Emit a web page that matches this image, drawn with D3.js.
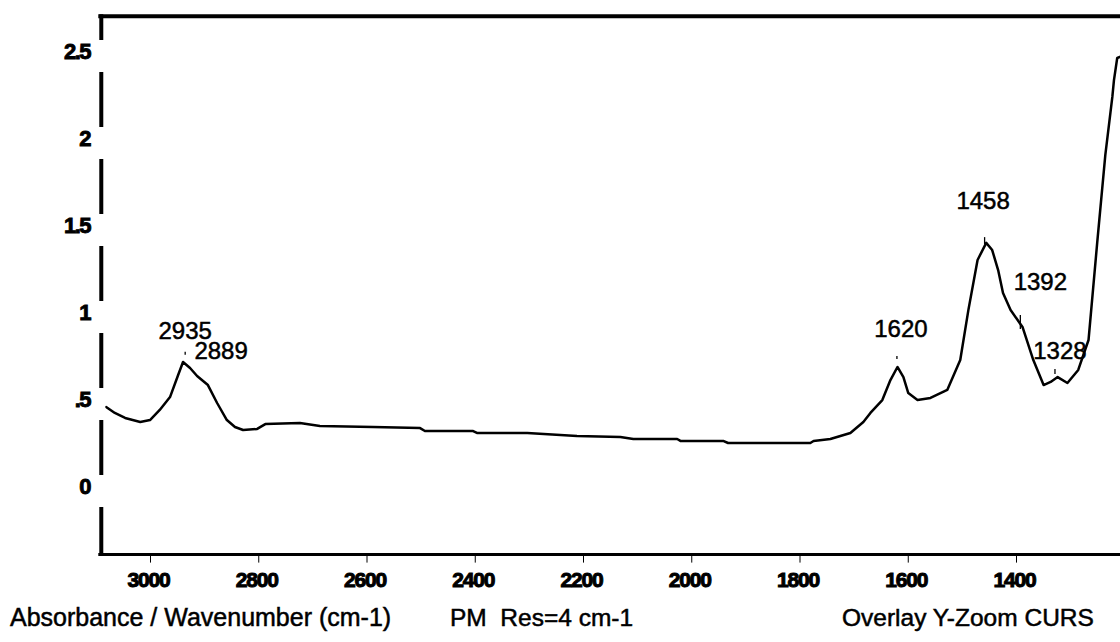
<!DOCTYPE html>
<html>
<head>
<meta charset="utf-8">
<script src="https://cdn.jsdelivr.net/npm/d3@7"></script>
<style>
  html, body { margin: 0; padding: 0; background: #fff; }
  svg { display: block; }
  text { font-family: "Liberation Sans", Arial, sans-serif; fill: #000; }
</style>
</head>
<body>
<svg id="chart" width="1120" height="642"></svg>
<script>
// ---- data ----
const wavenumbers = [3081, 3065, 3046, 3018, 3000, 2982, 2963, 2948, 2939, 2926, 2913, 2893, 2876, 2858, 2843, 2828, 2802, 2787, 2723, 2686, 2588, 2501, 2492, 2403, 2396, 2303, 2211, 2131, 2107, 2026, 2020, 1941, 1932, 1780, 1774, 1743, 1706, 1682, 1669, 1647, 1632, 1619, 1608, 1599, 1582, 1558, 1527, 1503, 1488, 1471, 1455, 1444, 1433, 1424, 1410, 1388, 1368, 1349, 1336, 1323, 1305, 1285, 1266, 1250, 1235, 1222, 1219, 1213, 1198];
const absorbance  = [0.454, 0.42, 0.391, 0.368, 0.379, 0.437, 0.511, 0.638, 0.713, 0.678, 0.632, 0.580, 0.477, 0.379, 0.339, 0.322, 0.328, 0.356, 0.362, 0.345, 0.339, 0.333, 0.316, 0.316, 0.305, 0.305, 0.287, 0.282, 0.270, 0.270, 0.259, 0.259, 0.247, 0.247, 0.259, 0.270, 0.305, 0.368, 0.42, 0.494, 0.609, 0.684, 0.626, 0.534, 0.494, 0.506, 0.552, 0.724, 1.011, 1.299, 1.397, 1.356, 1.241, 1.109, 1.011, 0.914, 0.724, 0.580, 0.598, 0.626, 0.592, 0.667, 0.839, 1.397, 1.902, 2.236, 2.333, 2.460, 2.477];
const yTickValues = [0, 0.5, 1, 1.5, 2, 2.5];
const yTickLabels = ["0", ".5", "1", "1.5", "2", "2.5"];
const xTickValues = [3000, 2800, 2600, 2400, 2200, 2000, 1800, 1600, 1400];
const xTickLabels = ["3000", "2800", "2600", "2400", "2200", "2000", "1800", "1600", "1400"];
const peakWavenumbers = [2935, 2889, 1620, 1458, 1392, 1328];
const peakLabels = ["2935", "2889", "1620", "1458", "1392", "1328"];
const footerTexts = ["Absorbance / Wavenumber (cm-1)", "PM  Res=4 cm-1", "Overlay Y-Zoom CURS"];

// ---- layout (not data) ----
const peakLabelOffsets = [[0, -25], [11, -30], [4, -31], [-1.5, -37], [20, -34], [5, -20]];
const peakMarkerSpans = [[-12, -9], null, [-12, -9], [-9, -2], [-9, 5], [-10, -5]];
const footerX = [10, 450, 842];
const footerSize = [25, 24.5, 24.5];

const svg = d3.select("#chart");
const W = 1120, H = 642;
svg.append("rect").attr("width", W).attr("height", H).attr("fill", "#fff");

const x = d3.scaleLinear().domain([3000, 1400]).range([150, 1016]);
const y = d3.scaleLinear().domain([0, 2.5]).range([486, 51]);
const xLeft = x(3090), xRight = W;
const yTop = y(2.7), yBottom = y(-0.4);

// curve
const pts = wavenumbers.map((w, i) => [w, absorbance[i]]);
const line = d3.line().x(d => x(d[0])).y(d => y(d[1])).curve(d3.curveLinear);
svg.append("path").datum(pts).attr("d", line)
  .attr("fill", "none").attr("stroke", "#000").attr("stroke-width", 2.5)
  .attr("stroke-linejoin", "round").attr("stroke-linecap", "round");

// frame
const frame = svg.append("g").attr("stroke", "#000").attr("fill", "none");
frame.append("line").attr("x1", xLeft - 3).attr("x2", xRight).attr("y1", yTop).attr("y2", yTop).attr("stroke-width", 4);
frame.append("line").attr("x1", xLeft).attr("x2", xLeft).attr("y1", yTop - 2).attr("y2", yBottom).attr("stroke-width", 4);
frame.append("line").attr("x1", xLeft - 3).attr("x2", xRight).attr("y1", yBottom - 1).attr("y2", yBottom - 1).attr("stroke-width", 3);

// y axis: gaps in the axis line at each label, then labels
svg.append("g").selectAll("rect").data(yTickValues).join("rect")
  .attr("x", xLeft - 4).attr("width", 8)
  .attr("y", d => y(d) - 11).attr("height", 32).attr("fill", "#fff");

const yAxis = d3.axisLeft(y).tickValues(yTickValues)
  .tickFormat((d, i) => yTickLabels[i]).tickSize(0).tickPadding(0);
const gy = svg.append("g").attr("transform", `translate(90,0)`).call(yAxis);
gy.select(".domain").remove();
gy.selectAll("text").attr("font-size", 22).attr("font-weight", "bold")
  .attr("letter-spacing", -1.5).attr("font-family", "'Liberation Sans', Arial, sans-serif")
  .attr("fill", "#000").attr("stroke", "#000").attr("stroke-width", 0.9)
  .attr("dy", "0.36em");

// x axis
const xAxis = d3.axisBottom(x).tickValues(xTickValues)
  .tickFormat((d, i) => xTickLabels[i]).tickSize(7).tickPadding(6);
const gx = svg.append("g").attr("transform", `translate(0,${yBottom})`).call(xAxis);
gx.select(".domain").remove();
gx.selectAll(".tick line").attr("stroke", "#000").attr("stroke-width", 1);
gx.selectAll("text").attr("font-size", 21).attr("font-weight", "bold")
  .attr("letter-spacing", -1.2).attr("font-family", "'Liberation Sans', Arial, sans-serif")
  .attr("fill", "#000").attr("stroke", "#000").attr("stroke-width", 1)
  .attr("dx", -2).attr("dy", "0.9em");

// peak labels and markers
function curveAt(w) {
  for (let i = 0; i < wavenumbers.length - 1; i++) {
    const a = wavenumbers[i], b = wavenumbers[i + 1];
    if ((w <= a && w >= b)) {
      const t = (a - w) / (a - b);
      return absorbance[i] + t * (absorbance[i + 1] - absorbance[i]);
    }
  }
  return 0;
}
const pk = svg.append("g");
peakWavenumbers.forEach((w, i) => {
  const px = x(w), py = y(curveAt(w));
  const span = peakMarkerSpans[i];
  if (span) {
    pk.append("line").attr("x1", px).attr("x2", px)
      .attr("y1", py + span[0]).attr("y2", py + span[1])
      .attr("stroke", "#000").attr("stroke-width", 1.3);
  }
  pk.append("text").attr("x", px + peakLabelOffsets[i][0]).attr("y", py + peakLabelOffsets[i][1])
    .attr("text-anchor", "middle").attr("font-size", 24)
    .attr("stroke", "#000").attr("stroke-width", 0.5).text(peakLabels[i]);
});

// footer
svg.append("g").selectAll("text").data(footerTexts).join("text")
  .attr("x", (d, i) => footerX[i]).attr("y", 626)
  .attr("font-size", (d, i) => footerSize[i]).attr("xml:space", "preserve")
  .attr("stroke", "#000").attr("stroke-width", 0.5)
  .style("white-space", "pre").text(d => d);
</script>
</body>
</html>
